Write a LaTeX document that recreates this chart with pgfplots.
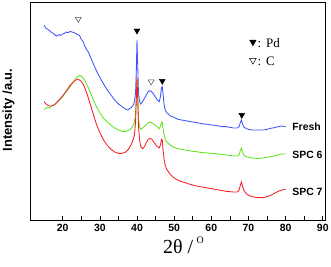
\documentclass[border=0pt]{standalone}
\usepackage{fontspec}
\setmainfont{Liberation Serif}
\newfontfamily\arial{Liberation Sans}
\usepackage{pgfplots}
\pgfplotsset{compat=1.18}
\definecolor{cblue}{RGB}{60,85,250}
\definecolor{cgreen}{RGB}{95,230,25}
\definecolor{cred}{RGB}{250,30,40}
\begin{document}
\begin{tikzpicture}
\begin{axis}[
  scale only axis, width=295bp, height=218bp,
  xmin=11.2, xmax=90.6, ymin=-660, ymax=-6,
  xtick={20,30,...,90}, minor x tick num=1,
  xtick pos=left, ytick=\empty,
  tick align=inside, major tick length=4bp, minor tick length=4bp,
  tick style={black, line width=0.6pt},
  axis line style={black, line width=0.7pt},
  /pgf/number format/assume math mode=true,
  xticklabel style={font=\arial\bfseries\fontsize{10.5}{12}\selectfont, yshift=-1bp},
  xlabel={2θ /\,\raisebox{1.15ex}{\fontsize{10}{10}\selectfont O}},
  xlabel style={font=\fontsize{20}{22}\selectfont, xshift=6bp, yshift=2bp},
  ylabel={Intensity /a.u.},
  ylabel style={font=\arial\bfseries\fontsize{13}{15}\selectfont, at={(axis description cs:-0.073,0.505)}, anchor=center},
  clip=false,
]
% Fresh
\addplot[cblue, line width=0.85pt] coordinates {
(15,-75)(15.5,-85)(16,-88)(16.5,-92)(17,-98)(17.5,-100)(18,-106)(18.5,-108)(19,-104)(19.5,-106)
(20,-102)(20.5,-100)(21,-96)(21.5,-98)(22,-94)(22.5,-96)(23,-98)(23.5,-100)(24,-104)(24.5,-106)
(25,-118)(25.5,-125)(26,-140)(26.5,-150)(27,-158)(27.5,-172)(28,-185)(28.5,-198)(29,-210)(29.5,-222)
(30,-232)(31,-252)(32,-270)(33,-285)(34,-300)(35,-312)(36,-320)(37,-328)(37.5,-330)(38,-326)
(38.5,-322)(39,-315)(39.3,-305)(39.6,-280)(39.8,-220)(40.0,-120)(40.2,-200)(40.4,-280)(40.7,-305)
(41,-312)(41.5,-305)(42,-295)(42.5,-285)(43,-275)(43.5,-272)(44,-276)(44.5,-283)(45,-292)(45.5,-300)
(46,-305)(46.3,-290)(46.6,-262)(46.8,-260)(47.0,-280)(47.3,-315)(47.6,-330)(48,-338)(49,-348)
(50,-352)(51,-358)(52,-360)(53,-362)(54,-364)(55,-366)(56,-368)(57,-370)(58,-372)(59,-373)
(60,-375)(61,-376)(62,-378)(63,-380)(64,-380)(65,-382)(66,-384)(67,-384)(67.5,-380)(67.8,-368)
(68.1,-360)(68.4,-372)(68.8,-382)(69.5,-386)(70,-388)(71,-390)(72,-390)(73,-390)(74,-390)
(75,-388)(76,-385)(77,-383)(78,-380)(79,-378)(80,-380)
};
% SPC 6
\addplot[cgreen, line width=0.85pt] coordinates {
(15,-328)(15.5,-325)(16,-322)(16.5,-324)(17,-318)(17.5,-316)(18,-312)(18.5,-306)(19,-302)(19.5,-296)
(20,-290)(20.5,-282)(21,-275)(21.5,-268)(22,-260)(22.5,-252)(23,-244)(23.5,-236)(24,-230)(24.5,-226)
(25,-228)(25.5,-234)(26,-242)(26.5,-254)(27,-266)(27.5,-278)(28,-292)(28.5,-305)(29,-318)(29.5,-328)
(30,-338)(31,-355)(32,-366)(33,-376)(34,-384)(35,-390)(36,-394)(37,-394)(37.5,-392)(38,-390)
(38.5,-384)(39,-376)(39.3,-368)(39.6,-340)(39.8,-290)(40.0,-240)(40.2,-290)(40.4,-355)(40.7,-380)
(41,-388)(41.5,-384)(42,-380)(42.5,-374)(43,-368)(43.5,-366)(44,-368)(44.5,-372)(45,-376)(45.5,-382)
(46,-386)(46.3,-378)(46.6,-366)(46.8,-368)(47.0,-385)(47.3,-405)(47.6,-418)(48,-426)(49,-436)
(50,-442)(51,-446)(52,-448)(53,-450)(54,-452)(55,-454)(56,-455)(57,-457)(58,-458)(59,-459)
(60,-460)(61,-461)(62,-462)(63,-464)(64,-465)(65,-466)(66,-468)(67,-468)(67.5,-464)(67.8,-452)
(68.1,-445)(68.4,-456)(68.8,-466)(69.5,-470)(70,-472)(71,-474)(72,-475)(73,-475)(74,-474)
(75,-472)(76,-470)(77,-468)(78,-465)(79,-462)(80,-462)
};
% SPC 7
\addplot[cred, line width=0.85pt] coordinates {
(15,-305)(15.5,-312)(16,-316)(16.5,-318)(17,-318)(17.5,-316)(18,-312)(18.5,-306)(19,-300)(19.5,-294)
(20,-288)(20.5,-280)(21,-272)(21.5,-264)(22,-256)(22.5,-250)(23,-244)(23.5,-240)(24,-238)(24.5,-240)
(25,-244)(25.5,-252)(26,-265)(26.5,-280)(27,-298)(27.5,-316)(28,-334)(28.5,-352)(29,-370)(29.5,-385)
(30,-398)(31,-420)(32,-436)(33,-448)(34,-456)(35,-460)(36,-460)(37,-456)(37.5,-450)(38,-442)
(38.5,-432)(39,-418)(39.3,-405)(39.6,-370)(39.8,-300)(40.0,-232)(40.2,-300)(40.4,-380)(40.7,-420)
(41,-440)(41.5,-446)(42,-440)(42.5,-428)(43,-418)(43.5,-415)(44,-418)(44.5,-426)(45,-434)(45.5,-440)
(46,-444)(46.3,-435)(46.6,-418)(46.8,-420)(47.0,-448)(47.3,-478)(47.6,-496)(48,-508)(49,-524)
(50,-534)(51,-540)(52,-545)(53,-548)(54,-552)(55,-555)(56,-558)(57,-560)(58,-562)(59,-564)
(60,-566)(61,-568)(62,-570)(63,-572)(64,-574)(65,-575)(66,-576)(67,-576)(67.5,-570)(67.8,-556)
(68.1,-546)(68.4,-558)(68.8,-572)(69.5,-582)(70,-586)(71,-590)(72,-592)(73,-593)(74,-593)
(75,-590)(76,-586)(77,-580)(78,-574)(79,-570)(80,-568)
};
% Pd markers (filled down triangles)
\addplot[only marks, mark=triangle*, mark size=3.4pt, mark options={rotate=180, fill=black, draw=black}]
  coordinates {(40,-92)(46.8,-243)(68.2,-345)};
\addplot[only marks, mark=triangle*, mark size=3.8pt, mark options={rotate=180, fill=black, draw=black}]
  coordinates {(71.2,-126)};
% C markers (open down triangles)
\addplot[only marks, mark=triangle, mark size=3.4pt, mark options={rotate=180, draw=gray!60!black, line width=0.5pt}]
  coordinates {(24.2,-57)(43.8,-245)};
\addplot[only marks, mark=triangle, mark size=3.8pt, mark options={rotate=180, draw=black, line width=0.5pt}]
  coordinates {(71.2,-181)};
\node[anchor=west, inner sep=0pt, font=\fontsize{13}{14}\selectfont] at (axis cs:72.4,-128) {:\hspace{5bp}Pd};
\node[anchor=west, inner sep=0pt, font=\fontsize{13}{14}\selectfont] at (axis cs:72.4,-183) {:\hspace{5bp}C};
\node[anchor=west, inner sep=0pt, font=\arial\bfseries\fontsize{10.5}{12}\selectfont] at (axis cs:81.75,-380) {Fresh};
\node[anchor=west, inner sep=0pt, font=\arial\bfseries\fontsize{10.5}{12}\selectfont] at (axis cs:81.75,-465) {SPC 6};
\node[anchor=west, inner sep=0pt, font=\arial\bfseries\fontsize{10.5}{12}\selectfont] at (axis cs:81.75,-575) {SPC 7};
\end{axis}
\pgfresetboundingbox
\path[use as bounding box] ([shift={(-30bp,-47bp)}]current axis.south west) rectangle ([shift={(6bp,2bp)}]current axis.north east);
\end{tikzpicture}
\end{document}
